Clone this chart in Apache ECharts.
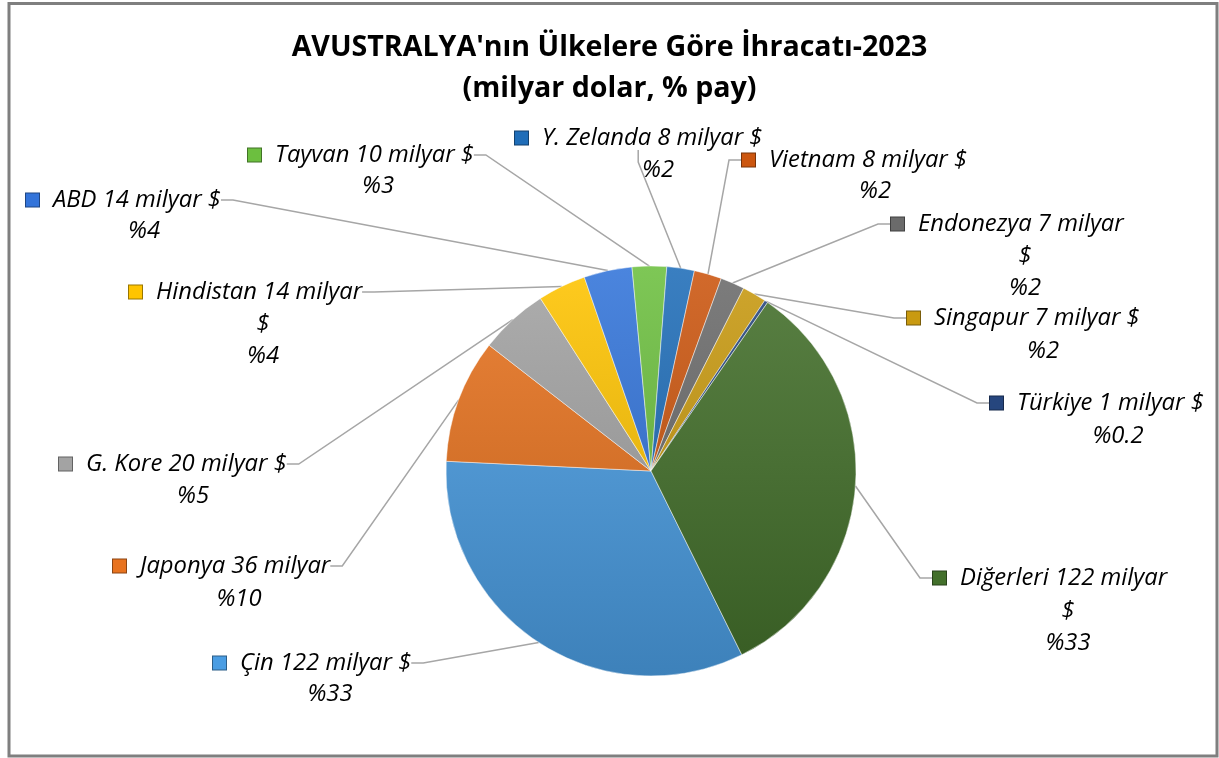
<!DOCTYPE html>
<html>
<head>
<meta charset="utf-8">
<script src="https://cdn.jsdelivr.net/npm/echarts@6/dist/echarts.min.js"></script>
<style>
	html, body { margin: 0; padding: 0; background: #fff; }
	#chart { width: 1219px; height: 758px; }
</style>
</head>
<body>
<div id="chart"></div>
<script>
// data (milyar $), clockwise from Çin
const countries = ['Çin', 'Japonya', 'G. Kore', 'Hindistan', 'ABD', 'Tayvan', 'Y. Zelanda', 'Vietnam', 'Endonezya', 'Singapur', 'Türkiye', 'Diğerleri'];
const exports2023 = [122, 36, 20, 14, 14, 10, 8, 8, 7, 7, 1, 122];
const shareLabels = ['33', '10', '5', '4', '4', '3', '2', '2', '2', '2', '0.2', '33'];
// how the "$" shows in the excel label: same line, own line, or cut off
const dollarMode = ['inline', 'none', 'inline', 'wrap', 'inline', 'inline', 'inline', 'inline', 'wrap', 'inline', 'inline', 'wrap'];

const sliceColors = ['#4a9de3', '#e8731f', '#a3a3a3', '#ffc400', '#3374da', '#6cbf3f', '#1f6db8', '#cc560f', '#6b6b6b', '#c99a10', '#26467e', '#43702b'];

// label placement, like the excel chart (left of marker / line centre)
const nameLabelPos = [[213, 663], [113, 566], [59, 464], [129, 292], [26, 200], [248, 155], [515, 138], [742, 160], [891, 224], [907, 318], [990, 403], [933, 578]];
// centre x / first line centre y of the lower lines
const shareLabelPos = [[330, 694], [239, 599], [193, 496], [263, 324], [144, 231], [378, 186], [658, 170], [875, 191], [1025, 256], [1043, 351], [1118, 436], [1068, 611]];

const lineH = 32;
const labelFont = 'Open Sans';
const labelSize = 23.8;

function shade(hex, k) {
	let c = parseInt(hex.slice(1), 16);
	let r = (c >> 16) & 255, g = (c >> 8) & 255, b = c & 255;
	const f = v => Math.max(0, Math.min(255, Math.round(k > 0 ? v + (255 - v) * k : v * (1 + k))));
	return 'rgb(' + f(r) + ',' + f(g) + ',' + f(b) + ')';
}

const pieData = countries.map((name, i) => ({
	name: name,
	value: exports2023[i],
	itemStyle: {
		color: {
			type: 'linear', x: 0, y: 265, x2: 0, y2: 677, global: true,
			colorStops: [
				{ offset: 0, color: shade(sliceColors[i], 0.12) },
				{ offset: 1, color: shade(sliceColors[i], -0.18) }
			]
		}
	},
	label: {
		rich: {
			m: {
				width: 13, height: 13,
				backgroundColor: sliceColors[i],
				borderColor: shade(sliceColors[i], -0.4),
				borderWidth: 1
			}
		}
	}
}));

const shareData = countries.map((name, i) => ({ name: name, value: exports2023[i] }));

const chart = echarts.init(document.getElementById('chart'));

const option = {
	backgroundColor: '#ffffff',
	animation: false,
	title: {
		text: "AVUSTRALYA'nın Ülkelere Göre İhracatı-2023\n(milyar dolar, % pay)",
		left: 'center',
		top: 22,
		textStyle: {
			fontFamily: 'Open Sans',
			fontWeight: 'bold',
			fontSize: 28.6,
			lineHeight: 41,
			color: '#000'
		}
	},
	graphic: [{
		type: 'rect',
		shape: { x: 9, y: 3.5, width: 1208, height: 752.5 },
		style: { fill: 'none', stroke: '#7f7f7f', lineWidth: 3 },
		silent: true
	}],
	series: [
		{
			type: 'pie',
			center: [651, 471],
			radius: 205,
			startAngle: 296.3,
			clockwise: true,
			avoidLabelOverlap: false,
			silent: true,
			data: pieData,
			itemStyle: { borderColor: 'rgba(255,255,255,0.45)', borderWidth: 1 },
			label: {
				show: true,
				position: 'outside',
				padding: [0, 7, 0, 7],
				formatter: p => '{m|}{g|}' + p.name + ' ' + p.value + ' milyar' + (dollarMode[p.dataIndex] === 'inline' ? ' $' : ''),
				fontFamily: labelFont,
				fontStyle: 'italic',
				fontSize: labelSize,
				color: '#000',
				rich: {
					g: { width: 14 }
				}
			},
			labelLine: {
				show: true,
				length: 10,
				length2: 12,
				lineStyle: { color: '#a6a6a6', width: 1.5 }
			},
			labelLayout: p => ({
				x: nameLabelPos[p.dataIndex][0] - 7,
				y: nameLabelPos[p.dataIndex][1],
				align: 'left',
				verticalAlign: 'middle'
			})
		},
		{
			// second pass only for the "%" lines under the names
			type: 'pie',
			center: [651, 471],
			radius: 205,
			startAngle: 296.3,
			clockwise: true,
			avoidLabelOverlap: false,
			silent: true,
			data: shareData,
			itemStyle: { color: 'rgba(0,0,0,0)', borderWidth: 0 },
			label: {
				show: true,
				position: 'outside',
				formatter: p => (dollarMode[p.dataIndex] === 'wrap' ? '$\n' : '') + '%' + shareLabels[p.dataIndex],
				fontFamily: labelFont,
				fontStyle: 'italic',
				fontSize: labelSize,
				lineHeight: lineH,
				align: 'center',
				color: '#000'
			},
			labelLine: { show: false },
			labelLayout: p => ({
				x: shareLabelPos[p.dataIndex][0],
				y: shareLabelPos[p.dataIndex][1] - lineH / 2,
				align: 'center',
				verticalAlign: 'top'
			})
		}
	]
};

chart.setOption(option);
</script>
</body>
</html>
